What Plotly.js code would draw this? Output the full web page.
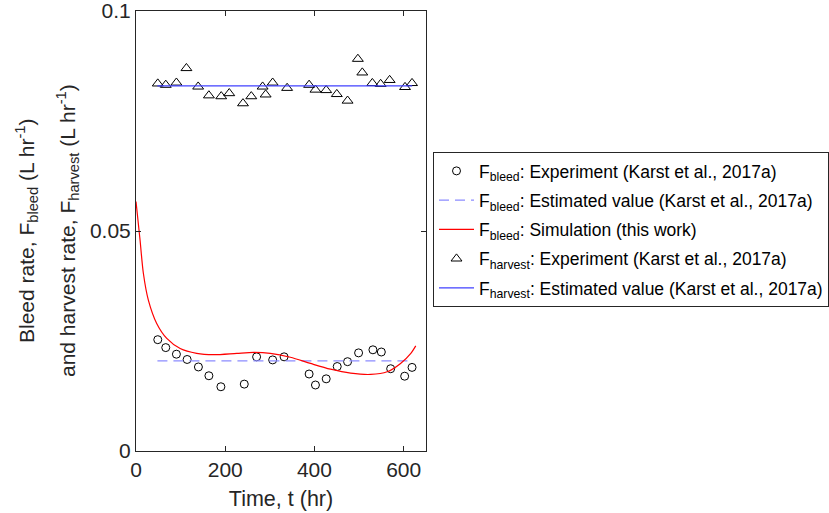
<!DOCTYPE html>
<html>
<head>
<meta charset="utf-8">
<script src="https://cdn.plot.ly/plotly-3.0.1.min.js"></script>
<style>html,body{margin:0;padding:0;background:#fff;}#chart{width:829px;height:513px;}</style>
</head>
<body>
<div id="chart"></div>
<script>
// F_bleed experiment
var bleedT = [48.8, 66.7, 90.6, 114.6, 139.9, 163.4, 190.3, 242.7, 270.3, 306.3, 331.9, 388, 402.2, 426.3, 451, 474.2, 498.9, 531, 549.9, 570.8, 602.2, 618.7];
var bleedY = [0.0253, 0.0235, 0.0220, 0.0208, 0.0191, 0.0171, 0.0146, 0.0152, 0.0214, 0.0207, 0.0214, 0.0175, 0.0150, 0.0164, 0.0192, 0.0203, 0.0223, 0.0230, 0.0225, 0.0187, 0.0170, 0.0190];
// F_bleed estimated value
var bleedEstT = [48, 619];
var bleedEstY = [0.0205, 0.0205];
// F_bleed simulation
var simT = [0, 9, 16.5, 27.7, 46.4, 69, 99, 136, 174, 226, 264, 301, 346, 391, 436, 481, 526, 563, 593, 616, 627];
var simY = [0.0567, 0.0480, 0.0404, 0.0343, 0.0290, 0.0256, 0.0233, 0.0222, 0.0219, 0.0222, 0.0224, 0.0222, 0.0213, 0.0199, 0.0186, 0.0177, 0.0174, 0.0180, 0.0199, 0.0222, 0.0239];
// F_harvest experiment
var harvT = [48.8, 66.7, 90.6, 113, 139.3, 163.4, 191, 209, 239.8, 258.4, 283.8, 290.6, 306.3, 338.7, 388, 402.2, 426.3, 450.1, 474.2, 497.3, 507.2, 529.7, 548.3, 568.5, 603, 618.7];
var harvY = [0.0835, 0.0832, 0.0837, 0.0870, 0.0828, 0.0808, 0.0806, 0.0813, 0.0790, 0.0806, 0.0828, 0.0810, 0.0837, 0.0825, 0.0832, 0.0821, 0.0820, 0.0811, 0.0796, 0.0891, 0.0860, 0.0836, 0.0834, 0.0843, 0.0827, 0.0836];
// F_harvest estimated value
var harvEstT = [48, 619];
var harvEstY = [0.0830, 0.0830];

var xTicks = [0, 200, 400, 600];
var yTicks = [0, 0.05, 0.1];
var yTickText = ['0', '0.05', '0.1'];

var FONT = 'Liberation Sans, Arial, Helvetica, sans-serif';
var AX = '#262626';

var traces = [
  {x: bleedT, y: bleedY, type: 'scatter', mode: 'markers', legendgroup: 'g1',
   name: 'F<sub>bleed</sub>: Experiment (Karst et al., 2017a)',
   marker: {symbol: 'circle-open', size: 8, color: '#000', line: {width: 1, color: '#000'}}},
  {x: bleedEstT, y: bleedEstY, type: 'scatter', mode: 'lines', legendgroup: 'g2',
   name: 'F<sub>bleed</sub>: Estimated value (Karst et al., 2017a)',
   line: {color: '#8c8cff', width: 1.2, dash: '10px,6px'}},
  {x: simT, y: simY, type: 'scatter', mode: 'lines', legendgroup: 'g3',
   name: 'F<sub>bleed</sub>: Simulation (this work)',
   line: {color: '#ff0000', width: 1.2, shape: 'spline', smoothing: 0.8}},
  {x: harvT, y: harvY, type: 'scatter', mode: 'markers', legendgroup: 'g4',
   name: 'F<sub>harvest</sub>: Experiment (Karst et al., 2017a)',
   marker: {symbol: 'triangle-up-open', size: 9.5, color: '#000', line: {width: 1, color: '#000'}}},
  {x: harvEstT, y: harvEstY, type: 'scatter', mode: 'lines', legendgroup: 'g5',
   name: 'F<sub>harvest</sub>: Estimated value (Karst et al., 2017a)',
   line: {color: '#4040ff', width: 1.2}}
];

var layout = {
  width: 829, height: 513,
  margin: {l: 136, r: 403, t: 11, b: 62, pad: 0, autoexpand: false},
  paper_bgcolor: '#fff', plot_bgcolor: '#fff',
  font: {family: FONT, color: AX},
  showlegend: true,
  xaxis: {
    range: [0, 650], tickvals: xTicks, ticks: 'inside', ticklen: 5, tickcolor: AX,
    showline: true, linecolor: AX, linewidth: 1, mirror: 'ticks', showgrid: false, zeroline: false,
    automargin: false, ticklabeloverflow: 'allow',
    tickfont: {size: 21, color: AX, family: FONT},
    title: {text: 'Time, t (hr)', font: {size: 21.5, color: AX, family: FONT}, standoff: 10}
  },
  yaxis: {
    range: [0, 0.1], tickvals: yTicks, ticktext: yTickText, ticks: 'inside', ticklen: 5, tickcolor: AX,
    showline: true, linecolor: AX, linewidth: 1, mirror: 'ticks', showgrid: false, zeroline: false,
    automargin: false, ticklabeloverflow: 'allow',
    tickfont: {size: 21, color: AX, family: FONT}
  },
  legend: {
    xref: 'container', yref: 'container',
    x: 433 / 829, y: 1 - 152 / 513, xanchor: 'left', yanchor: 'top',
    bgcolor: '#fff', bordercolor: AX, borderwidth: 1,
    font: {size: 17.5, color: '#000', family: FONT},
    itemwidth: 35,
    tracegroupgap: 3.5
  },
  annotations: [
    {xref: 'paper', yref: 'paper', x: 0, y: 0.5, xshift: -110, xanchor: 'center', yanchor: 'middle',
     textangle: -90, showarrow: false,
     text: 'Bleed rate, F<sub>bleed</sub> (L hr<sup>-1</sup>)', font: {size: 21, color: AX, family: FONT}},
    {xref: 'paper', yref: 'paper', x: 0, y: 0.5, xshift: -69, xanchor: 'center', yanchor: 'middle',
     textangle: -90, showarrow: false,
     text: 'and harvest rate, F<sub>harvest</sub> (L hr<sup>-1</sup>)', font: {size: 21, color: AX, family: FONT}}
  ]
};

Plotly.newPlot('chart', traces, layout, {displayModeBar: false, staticPlot: true});
</script>
</body>
</html>
